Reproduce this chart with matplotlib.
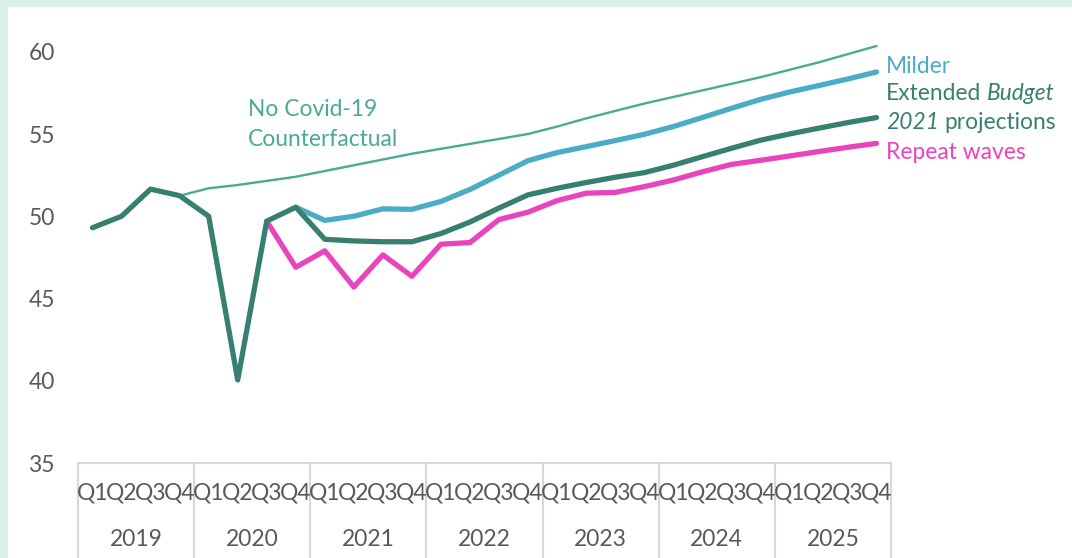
import numpy as np
import matplotlib
matplotlib.use("Agg")
import matplotlib.pyplot as plt
import matplotlib.transforms as mtransforms
from matplotlib.patches import Rectangle

nan = np.nan
years = ["2019", "2020", "2021", "2022", "2023", "2024", "2025"]
quarters = ["Q1", "Q2", "Q3", "Q4"]

extended = [49.3, 50.0, 51.65, 51.25, 50.0, 40.05, 49.7, 50.55,
            48.6, 48.5, 48.45, 48.45, 48.95, 49.65, 50.5, 51.3,
            51.7, 52.05, 52.37, 52.65, 53.1, 53.62, 54.13, 54.62,
            55.0, 55.35, 55.69, 56.0]
milder = [nan, nan, nan, nan, nan, nan, nan, 50.55,
          49.75, 50.0, 50.45, 50.42, 50.9, 51.63, 52.5, 53.38,
          53.87, 54.23, 54.6, 54.98, 55.45, 56.0, 56.56, 57.1,
          57.55, 57.94, 58.34, 58.77]
repeat = [nan, nan, nan, nan, nan, nan, 49.7, 46.9,
          47.9, 45.7, 47.65, 46.35, 48.3, 48.4, 49.8, 50.25,
          50.95, 51.4, 51.45, 51.8, 52.2, 52.7, 53.15, 53.4,
          53.66, 53.93, 54.19, 54.43]
counterfactual = [nan, nan, nan, 51.25, 51.7, 51.9, 52.15, 52.4,
                  52.75, 53.1, 53.45, 53.8, 54.1, 54.4, 54.7, 55.0,
                  55.45, 55.95, 56.4, 56.85, 57.25, 57.65, 58.05, 58.45,
                  58.9, 59.35, 59.85, 60.35]

yticks = [35, 40, 45, 50, 55, 60]

C_DARK = "#37806f"
C_BLUE = "#4bacc6"
C_PINK = "#ea43be"
C_CF = "#4aaa95"
C_GRID = "#d9d9d9"
C_TXT = "#595959"

plt.rcParams['font.family'] = ['Lato', 'DejaVu Sans']
FS = 16.4

W, H = 1072, 558
fig = plt.figure(figsize=(W / 100, H / 100), dpi=100)
fig.patch.set_facecolor("#daf0ea")
fig.patches.append(Rectangle((8 / W, 0), 1 - 8 / W, 1 - 7 / H, transform=fig.transFigure,
                             facecolor="white", edgecolor="none", zorder=-10))

ax_left, ax_right, ax_bot, ax_top = 78, 891, 463, 7
ax = fig.add_axes([ax_left / W, 1 - ax_bot / H, (ax_right - ax_left) / W, (ax_bot - ax_top) / H])
ax.set_zorder(5)
ax.set_facecolor("none")
n = len(extended)
x = np.arange(n)
ax.set_xlim(-0.5, n - 0.5)
ax.set_ylim(35, 35 + (ax_bot - ax_top) / 16.45)

ax.plot(x, counterfactual, color=C_CF, lw=1.7, solid_capstyle="round", zorder=2, clip_on=False)
ax.plot(x, milder, color=C_BLUE, lw=3.8, solid_capstyle="round", solid_joinstyle="round", zorder=3, clip_on=False)
ax.plot(x, repeat, color=C_PINK, lw=3.8, solid_capstyle="round", solid_joinstyle="round", zorder=3, clip_on=False)
ax.plot(x, extended, color=C_DARK, lw=3.8, solid_capstyle="round", solid_joinstyle="round", zorder=4, clip_on=False)

for s in ["top", "right", "left"]:
    ax.spines[s].set_visible(False)
ax.spines["bottom"].set_color(C_GRID)
ax.spines["bottom"].set_linewidth(1.5)
ax.set_yticks(yticks)
ax.set_yticklabels([str(v) for v in yticks])
ax.tick_params(axis="y", length=0, pad=16.5, labelsize=FS, labelcolor=C_TXT)
ax.set_xticks([])

trans = mtransforms.blended_transform_factory(ax.transData, ax.transAxes)
axh = ax_bot - ax_top
for i in range(n):
    ax.text(i, -(493 - ax_bot) / axh, quarters[i % 4], transform=trans, ha="center", va="center",
            fontsize=FS, color=C_TXT)
for k, yr in enumerate(years):
    ax.text(4 * k + 1.5, -(540 - ax_bot) / axh, yr, transform=trans, ha="center", va="center",
            fontsize=FS, color=C_TXT)
for k in range(len(years) + 1):
    ax.plot([4 * k - 0.5, 4 * k - 0.5], [0, -(H - ax_bot) / axh], transform=trans, color=C_GRID,
            lw=1.5, clip_on=False)


def ftext(px, py, s, color, style="normal"):
    return fig.text(px / W, 1 - py / H, s, color=color, fontsize=FS, va="baseline", ha="left",
                    style=style, zorder=10)


ftext(248, 116.5, "No Covid-19", C_CF)
ftext(248, 145.5, "Counterfactual", C_CF)

ftext(886, 73, "Milder", C_BLUE)
ftext(886, 159, "Repeat waves", C_PINK)

fig.canvas.draw()
r = fig.canvas.get_renderer()
space = 5.5
t1 = ftext(886, 100, "Extended", C_DARK)
e1 = t1.get_window_extent(r)
ftext(e1.x1 + space, 100, "Budget", C_DARK, style="italic")
t2 = ftext(886, 129, "2021", C_DARK, style="italic")
e2 = t2.get_window_extent(r)
ftext(e2.x1 + space, 129, "projections", C_DARK)

fig.savefig("out.png", dpi=100)
